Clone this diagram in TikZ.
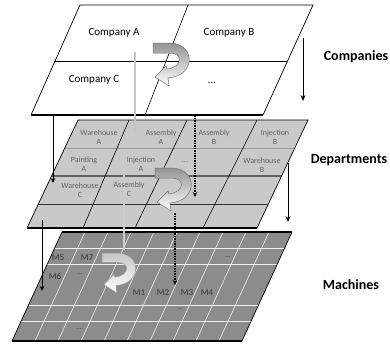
\documentclass[tikz,border=0pt]{standalone}
\usepackage{fontspec}
\setmainfont{Carlito}
\usetikzlibrary{calc,arrows.meta}
\newcommand{\myuturn}[1]{\draw[#1] (0,0) -- (17,0) .. controls (43,1) and (43,33) .. (15,35) -- (16,43) -- (2,34) -- (13,23) -- (14,26) .. controls (30,24) and (30,10) .. (17,10) -- (0,10) -- cycle;}
\begin{document}
\begin{tikzpicture}[x=1pt,y=-1pt,
  thinedge/.style={draw=black,line width=0.7pt},
  thickedge/.style={draw=black,line width=1.6pt},
  conn/.style={draw=black,line width=0.9pt,-{Stealth[length=5pt,width=4.5pt]}},
  dotconn/.style={conn,line width=1.1pt,dash pattern=on 1.5pt off 1pt},
  grayconn/.style={draw=gray!45,line width=1.2pt,-{Stealth[length=5pt,width=4.5pt]}},
  sidearrow/.style={draw=black,line width=1pt,-{Stealth[length=6pt,width=5pt]}},
  comptxt/.style={font=\fontsize{11}{12}\selectfont,inner sep=0pt},
  depttxt/.style={font=\fontsize{8}{9.5}\selectfont,text=black!62,align=center,inner sep=0pt},
  machtxt/.style={font=\fontsize{9}{10}\selectfont,text=black!78,inner sep=0pt},
  layertxt/.style={font=\fontsize{14}{16}\selectfont\bfseries,inner sep=0pt},
  whiteline/.style={draw=white!88!gray,line width=0.8pt},
]
\useasboundingbox (0,0) rectangle (390,343);

% ---------- Machines plane ----------
\coordinate (M1) at (62,232); \coordinate (M2) at (292,232);
\coordinate (M3) at (242,341); \coordinate (M4) at (12,341);
\fill[black!45] (M1)--(M2)--(M3)--(M4)--cycle;
\foreach \f in {0.147,0.294,0.670,0.817}
  \draw[whiteline] ($(M1)!\f!(M4)$) -- ($(M2)!\f!(M3)$);
\foreach \k in {1,...,9}
  \draw[whiteline,line width=0.6pt] ($(M1)!{\k/10}!(M2)$) -- ($(M4)!{\k/10}!(M3)$);
\draw[thinedge] (M4)--(M1);
\draw[thinedge] (M2)--(M3);
\draw[thickedge] (M1)--(M2);
\draw[thickedge,line width=1.3pt] (M3)--(M4);

% ---------- Departments plane ----------
\coordinate (D1) at (78,120); \coordinate (D2) at (308,120);
\coordinate (D3) at (257,228); \coordinate (D4) at (27,228);
\fill[black!21] (D1)--(D2)--(D3)--(D4)--cycle;
\draw[draw=black!40,line width=0.6pt] ($(D1)!0.259!(D4)$) -- ($(D2)!0.259!(D3)$);
\draw[draw=black!62,line width=1.4pt] ($(D1)!0.519!(D4)$) -- ($(D2)!0.519!(D3)$);
\draw[draw=black!80,line width=0.9pt] ($(D1)!0.778!(D4)$) -- ($(D2)!0.778!(D3)$);
\coordinate (da1) at (129,120); \coordinate (db1) at (83,228);
\coordinate (da2) at (187,120); \coordinate (db2) at (135,228);
\coordinate (da3) at (257,120); \coordinate (db3) at (203,228);
\draw[black,line width=0.6pt] (da1)--(db1) (da2)--(db2) (da3)--(db3);
\draw[thinedge] (D4)--(D1)--(D2)--(D3);
\draw[thickedge] (D3)--(D4);

% ---------- Companies plane ----------
\coordinate (P1) at (80,5); \coordinate (P2) at (313,5);
\coordinate (P3) at (263,115); \coordinate (P4) at (31,115);
\fill[white] (P1)--(P2)--(P3)--(P4)--cycle;
\draw[black,line width=1pt] ($(P1)!0.518!(P4)$) -- ($(P2)!0.518!(P3)$);
\coordinate (pa) at (188,5); \coordinate (pb) at (145,115);
\draw[black,line width=0.6pt] (pa)--(pb);
\draw[thinedge] (P4)--(P1)--(P2)--(P3);
\draw[thickedge] (P3)--(P4);

% ---------- connectors ----------
\coordinate (g1s) at (135,52);  \coordinate (g1e) at (135,134);
\coordinate (g2s) at (124,170); \coordinate (g2e) at (124,250);
\coordinate (b1s) at (53,115);  \coordinate (b1e) at (53,183);
\coordinate (d1s) at (195,115); \coordinate (d1e) at (195,197);
\coordinate (b2s) at (42,220);  \coordinate (b2e) at (42,291);
\coordinate (d2s) at (175,213); \coordinate (d2e) at (175,285);
\draw[grayconn] (g1s) -- (g1e);
\draw[draw=gray!40,line width=1.2pt] (g2s) -- (g2e);
\draw[conn] (b1s) -- (b1e);
\draw[dotconn] (d1s) -- (d1e);
\draw[conn] (b2s) -- (b2e);
\draw[dotconn] (d2s) -- (d2e);

% ---------- U-turn arrows ----------
\myuturn{shift={(153,43)},top color=black!42,bottom color=white,draw=black!55,line width=0.5pt}
\myuturn{shift={(155,168)},top color=black!42,bottom color=white,draw=black!55,line width=0.5pt}
\myuturn{shift={(102,253)},scale=0.93,top color=black!22,bottom color=white,draw=black!40,line width=0.5pt}

% ---------- side arrows ----------
\coordinate (sa1) at (303,38); \coordinate (sa2) at (303,101);
\coordinate (sb1) at (288,163); \coordinate (sb2) at (288,222);
\draw[sidearrow] (sa1) -- (sa2);
\draw[sidearrow] (sb1) -- (sb2);

% ---------- layer labels ----------
\node[layertxt] (lc) at (356,57) {Companies};
\node[layertxt] (ld) at (349,160) {Departments};
\node[layertxt] (lm) at (351,285) {Machines};

% ---------- company labels ----------
\node[comptxt] (ca) at (114,33) {Company A};
\node[comptxt] (cb) at (229,33) {Company B};
\node[comptxt] (cc) at (94,80) {Company C};
\node[comptxt] (cd) at (212,83) {...};

% ---------- department labels ----------
\node[depttxt] (wa) at (99,137) {Warehouse\\A};
\node[depttxt] (aa) at (161,137) {Assembly\\A};
\node[depttxt] (ab) at (214,137) {Assembly\\B};
\node[depttxt] (ib) at (275,137) {Injection\\B};
\node[depttxt] (pa2) at (84,164) {Painting\\A};
\node[depttxt] (ia) at (141,164) {Injection\\A};
\node[depttxt] (dd) at (185,162) {...};
\node[depttxt] (wb) at (262,165) {Warehouse\\B};
\node[depttxt] (wc) at (80,190) {Warehouse\\C};
\node[depttxt] (ac) at (129,189) {Assembly\\C};

% ---------- machine labels ----------
\node[machtxt] (m5) at (58,258) {M5};
\node[machtxt] (m7) at (87,258) {M7};
\node[machtxt] (m6) at (55,276) {M6};
\node[machtxt,font=\fontsize{7}{8}\selectfont] (mdA) at (80,274) {...};
\node[machtxt] (m1) at (139,293) {M1};
\node[machtxt] (m2) at (163,293) {M2};
\node[machtxt] (m3) at (187,293) {M3};
\node[machtxt] (m4) at (207,293) {M4};
\node[machtxt,font=\fontsize{7}{8}\selectfont] (mdB) at (180,309) {...};
\node[machtxt,font=\fontsize{7}{8}\selectfont] (mdC) at (228,257) {...};
\node[machtxt,font=\fontsize{7}{8}\selectfont] (mdD) at (79,329) {...};
\end{tikzpicture}
\end{document}
